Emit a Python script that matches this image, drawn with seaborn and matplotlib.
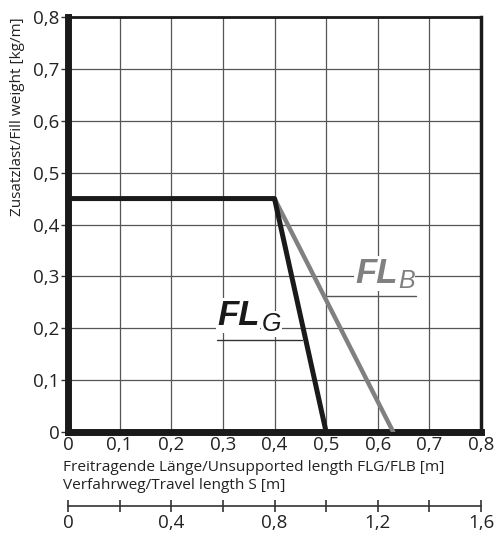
import numpy as np
import pandas as pd
import seaborn as sns
import matplotlib.pyplot as plt

# curve data
flg_x = [0.0, 0.4, 0.5]
flg_y = [0.45, 0.45, 0.0]
flb_x = [0.4, 0.63]
flb_y = [0.45, 0.0]

x_ticks = [0, 0.1, 0.2, 0.3, 0.4, 0.5, 0.6, 0.7, 0.8]
y_ticks = [0, 0.1, 0.2, 0.3, 0.4, 0.5, 0.6, 0.7, 0.8]
travel_ticks = [0, 0.4, 0.8, 1.2, 1.6]
travel_minor = [0.2, 0.6, 1.0, 1.4]

def comma(v):
    return '0' if v == 0 else f'{v:g}'.replace('.', ',')

sns.set_style('white')
plt.rcParams['font.family'] = ['Open Sans', 'DejaVu Sans']

fig = plt.figure(figsize=(5, 5.4), dpi=100)
ax = fig.add_axes([0.136, 0.2, 0.826, 0.7685])

df_g = pd.DataFrame({'x': flg_x, 'y': flg_y})
df_b = pd.DataFrame({'x': flb_x, 'y': flb_y})
sns.lineplot(data=df_b, x='x', y='y', ax=ax, color='#808080', lw=3.2, sort=False, zorder=3)
sns.lineplot(data=df_g, x='x', y='y', ax=ax, color='#1a1a1a', lw=3.6, sort=False, zorder=4)

ax.set_xlim(0, 0.8)
ax.set_ylim(0, 0.8)
ax.set_xticks(x_ticks)
ax.set_yticks(y_ticks)
ax.set_xticklabels([comma(v) for v in x_ticks], fontsize=13.5, color='#222222')
ax.set_yticklabels([comma(v) for v in y_ticks], fontsize=13.5, color='#222222')
ax.tick_params(axis='y', left=True, length=5, width=1, color='#333333', pad=1)
ax.tick_params(axis='x', length=0, pad=3)
ax.grid(True, color='#555555', lw=0.9)
ax.set_axisbelow(True)

for side, w in [('left', 5), ('bottom', 5), ('top', 2), ('right', 2.5)]:
    ax.spines[side].set_visible(True)
    ax.spines[side].set_linewidth(w)
    ax.spines[side].set_color('#1a1a1a')

ax.set_xlabel('')
ax.set_ylabel('Zusatzlast/Fill weight [kg/m]', fontsize=11, color='#222222')
ax.yaxis.set_label_coords(-0.105, 0.76)

# curve labels
lbl = dict(family='Liberation Sans', va='baseline', zorder=5)
box = dict(facecolor='white', edgecolor='none', pad=0.5)
ax.text(0.2887, 0.206, 'FL', fontsize=25, fontweight='bold', fontstyle='italic',
        color='#1a1a1a', bbox=box, **lbl)
ax.text(0.375, 0.195, 'G', fontsize=18, fontstyle='italic', color='#1a1a1a',
        bbox=box, **lbl)
ax.plot([0.289, 0.453], [0.177, 0.177], color='#333333', lw=1)
ax.text(0.556, 0.287, 'FL', fontsize=25, fontweight='bold', fontstyle='italic',
        color='#808080', bbox=box, **lbl)
ax.text(0.639, 0.278, 'B', fontsize=18, fontstyle='italic', color='#808080',
        bbox=box, **lbl)
ax.plot([0.502, 0.674], [0.262, 0.262], color='#555555', lw=1)

fig.text(0.126, 0.127, 'Freitragende Länge/Unsupported length FLG/FLB [m]',
         fontsize=11.1, color='#222222')
fig.text(0.126, 0.094, 'Verfahrweg/Travel length S [m]', fontsize=11.1, color='#222222')

# secondary travel-length scale
ax2 = fig.add_axes([0.136, 0.063, 0.826, 0.0001])
ax2.set_xlim(0, 1.6)
ax2.set_yticks([])
for side in ['left', 'right', 'top']:
    ax2.spines[side].set_visible(False)
ax2.spines['bottom'].set_linewidth(1.2)
ax2.spines['bottom'].set_color('#333333')
ax2.set_xticks(travel_ticks)
ax2.set_xticklabels([comma(v) for v in travel_ticks], fontsize=13.5, color='#222222')
ax2.set_xticks(travel_minor, minor=True)
ax2.tick_params(axis='x', which='both', bottom=True, direction='inout', length=8,
                width=1.2, color='#333333', pad=2)
ax2.set_facecolor('none')

fig.savefig('out.png', dpi=100)
